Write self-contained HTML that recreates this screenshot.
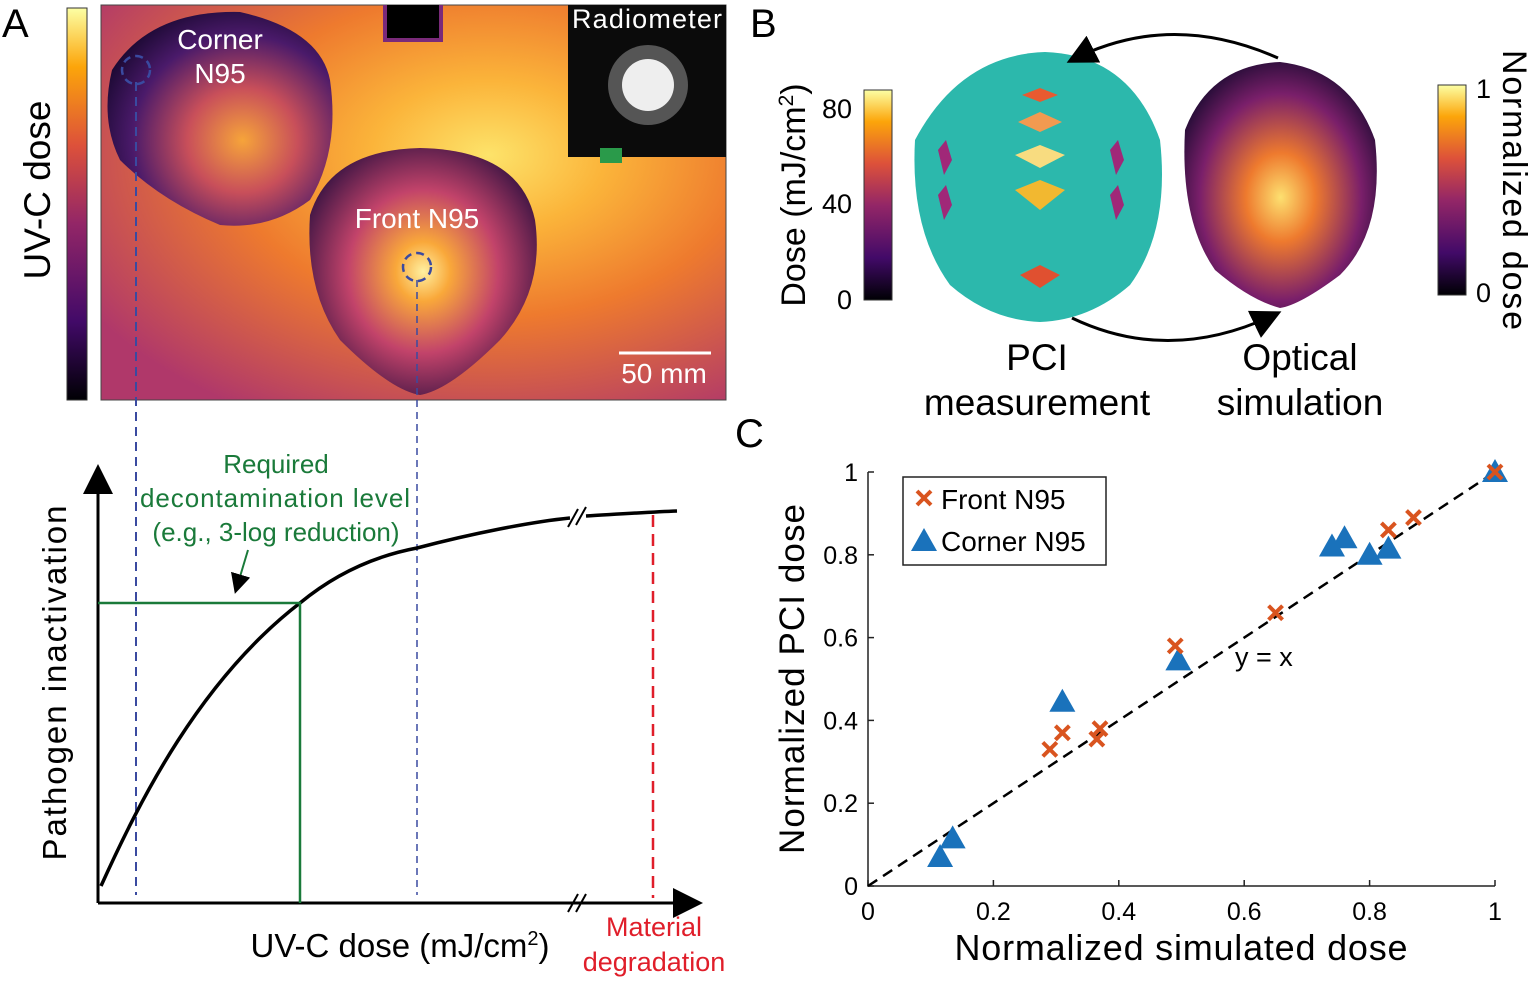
<!DOCTYPE html>
<html><head><meta charset="utf-8"><style>
body{margin:0;background:#fff;}
svg{display:block;font-family:"Liberation Sans",sans-serif;}
</style></head><body>
<svg width="1534" height="981" viewBox="0 0 1534 981">
<defs>
<linearGradient id="inf" x1="0" y1="1" x2="0" y2="0">
<stop offset="0" stop-color="#000004"/><stop offset="0.2" stop-color="#420a68"/><stop offset="0.45" stop-color="#932667"/><stop offset="0.65" stop-color="#dd513a"/><stop offset="0.85" stop-color="#fca50a"/><stop offset="1" stop-color="#fcffa4"/>
</linearGradient>
<radialGradient id="bg" cx="0.62" cy="0.38" r="0.75">
<stop offset="0" stop-color="#fde36a"/><stop offset="0.25" stop-color="#fbb43a"/><stop offset="0.55" stop-color="#ee7a2e"/><stop offset="1" stop-color="#b0386a"/>
</radialGradient>
<radialGradient id="front" cx="0.5" cy="0.5" r="0.6">
<stop offset="0" stop-color="#fff0a0"/><stop offset="0.2" stop-color="#f9a83a"/><stop offset="0.55" stop-color="#c2436a"/><stop offset="1" stop-color="#2a0e3e"/>
</radialGradient>
<radialGradient id="corner" cx="0.6" cy="0.6" r="0.7">
<stop offset="0" stop-color="#f6a43a"/><stop offset="0.35" stop-color="#c84f5a"/><stop offset="0.7" stop-color="#4a1a6a"/><stop offset="1" stop-color="#14062a"/>
</radialGradient>
<radialGradient id="sim" cx="0.5" cy="0.55" r="0.6">
<stop offset="0" stop-color="#fde070"/><stop offset="0.3" stop-color="#ee7a2e"/><stop offset="0.7" stop-color="#7a1f6a"/><stop offset="1" stop-color="#1a0a30"/>
</radialGradient>
<marker id="arr" markerWidth="10" markerHeight="10" refX="8" refY="5" orient="auto"><path d="M0,0L10,5L0,10z" fill="#000"/></marker>
</defs>

<!-- Panel A heatmap -->
<text x="2" y="37" font-size="40">A</text>
<rect x="67" y="8" width="20" height="392" fill="url(#inf)" stroke="#333"/>
<text transform="translate(50,190) rotate(-90)" font-size="37" text-anchor="middle">UV-C dose</text>
<rect x="101" y="5" width="625" height="395" fill="url(#bg)" stroke="#444"/>
<rect x="383" y="5" width="60" height="37" fill="#7a2a7a"/>
<rect x="387" y="5" width="52" height="33" fill="#000"/>
<path d="M112,70 Q150,10 240,12 Q320,30 330,80 Q340,150 310,200 Q270,230 220,225 Q160,200 120,160 Q100,120 112,70Z" fill="url(#corner)"/>
<path d="M310,215 Q330,150 420,148 Q520,150 535,220 Q545,290 500,340 Q450,390 420,395 Q390,390 340,340 Q305,290 310,215Z" fill="url(#front)"/>
<text x="220" y="49" font-size="28" fill="#fff" text-anchor="middle">Corner</text>
<text x="220" y="83" font-size="28" fill="#fff" text-anchor="middle">N95</text>
<text x="417" y="228" font-size="28" fill="#fff" text-anchor="middle">Front N95</text>
<rect x="568" y="5" width="158" height="152" fill="#0b0b0b"/>
<circle cx="648" cy="85" r="40" fill="#555"/><circle cx="648" cy="85" r="26" fill="#eee"/>
<rect x="600" y="148" width="22" height="15" fill="#2a9a4a"/>
<text x="647" y="28" font-size="27" fill="#fff" text-anchor="middle" textLength="150">Radiometer</text>
<line x1="619" y1="353" x2="711" y2="353" stroke="#fff" stroke-width="3"/>
<text x="664" y="383" font-size="28" fill="#fff" text-anchor="middle">50 mm</text>
<circle cx="136" cy="70" r="14" fill="none" stroke="#3a4aa0" stroke-width="2.5" stroke-dasharray="8 5"/>
<circle cx="417" cy="267" r="14" fill="none" stroke="#3a4aa0" stroke-width="2.5" stroke-dasharray="8 5"/>

<!-- Panel A curve -->
<line x1="136" y1="82" x2="136" y2="895" stroke="#3a4aa0" stroke-width="2" stroke-dasharray="9 6"/>
<line x1="417" y1="280" x2="417" y2="895" stroke="#3a4aa0" stroke-width="1.5" stroke-dasharray="7 5"/>
<line x1="98" y1="903" x2="98" y2="470" stroke="#000" stroke-width="3" marker-end="url(#arr)"/>
<line x1="98" y1="903" x2="697" y2="903" stroke="#000" stroke-width="3" marker-end="url(#arr)"/>
<line x1="568" y1="912" x2="578" y2="894" stroke="#000" stroke-width="2"/><line x1="576" y1="912" x2="586" y2="894" stroke="#000" stroke-width="2"/>
<line x1="568" y1="527" x2="578" y2="509" stroke="#000" stroke-width="2"/><line x1="576" y1="525" x2="586" y2="507" stroke="#000" stroke-width="2"/>
<path d="M101,886 C140,800 200,680 300,603 C340,570 380,555 417,548 C470,534 530,522 570,518 M586,516 C620,514 650,512 677,511" fill="none" stroke="#000" stroke-width="3.5"/>
<polyline points="98,603 300,603 300,903" fill="none" stroke="#1a7a3a" stroke-width="2.5"/>
<line x1="653" y1="515" x2="653" y2="898" stroke="#e01e2a" stroke-width="2.5" stroke-dasharray="12 7"/>
<g fill="#1a7a3a" font-size="26" text-anchor="middle">
<text x="276" y="473">Required</text><text x="275" y="507" textLength="270">decontamination level</text><text x="276" y="541">(e.g., 3-log reduction)</text></g>
<line x1="248" y1="550" x2="236" y2="590" stroke="#1a7a3a" stroke-width="2" marker-end="url(#arr)"/>
<text transform="translate(66,683) rotate(-90)" font-size="33" text-anchor="middle" textLength="355">Pathogen inactivation</text>
<text x="400" y="957" font-size="33" text-anchor="middle">UV-C dose (mJ/cm<tspan font-size="20" dy="-12">2</tspan><tspan dy="12">)</tspan></text>
<text x="654" y="936" font-size="27" fill="#e01e2a" text-anchor="middle">Material</text>
<text x="654" y="971" font-size="27" fill="#e01e2a" text-anchor="middle">degradation</text>

<!-- Panel B -->
<text x="750" y="37" font-size="40">B</text>
<rect x="864" y="90" width="28" height="210" fill="url(#inf)" stroke="#333"/>
<g font-size="27" text-anchor="end"><text x="852" y="118">80</text><text x="852" y="213">40</text><text x="852" y="309">0</text></g>
<text transform="translate(805,195) rotate(-90)" font-size="34" text-anchor="middle">Dose (mJ/cm<tspan font-size="21" dy="-12">2</tspan><tspan dy="12">)</tspan></text>
<path d="M915,140 Q960,55 1045,52 Q1130,55 1160,140 Q1170,230 1130,285 Q1090,320 1040,322 Q990,320 950,285 Q910,230 915,140Z" fill="#2cb8ac"/>
<g>
<path d="M1022,95 L1040,88 L1058,95 L1040,102Z" fill="#e85a30"/>
<path d="M1018,122 L1040,112 L1062,122 L1040,132Z" fill="#f29a50"/>
<path d="M1015,155 L1040,145 L1065,155 L1040,168Z" fill="#f8dc80"/>
<path d="M1015,190 L1040,180 L1065,190 L1040,210Z" fill="#f2b830"/>
<path d="M1020,275 L1040,265 L1060,275 L1040,288Z" fill="#e05030"/>
<path d="M938,150 L946,140 L952,160 L944,175Z" fill="#a02878"/><path d="M938,195 L946,185 L952,205 L944,220Z" fill="#a02878"/>
<path d="M1110,150 L1118,140 L1124,160 L1116,175Z" fill="#a02878"/><path d="M1110,195 L1118,185 L1124,205 L1116,220Z" fill="#a02878"/>
</g>
<path d="M1185,130 Q1210,65 1280,62 Q1350,70 1375,140 Q1385,230 1340,275 Q1300,305 1280,308 Q1250,300 1215,270 Q1180,220 1185,130Z" fill="url(#sim)"/>
<rect x="1438" y="85" width="28" height="210" fill="url(#inf)" stroke="#333"/>
<text x="1476" y="98" font-size="27">1</text><text x="1476" y="302" font-size="27">0</text>
<text transform="translate(1503,190) rotate(90)" font-size="34" text-anchor="middle" textLength="280">Normalized dose</text>
<path d="M1278,58 Q1170,10 1072,60" fill="none" stroke="#000" stroke-width="3" marker-end="url(#arr)"/>
<path d="M1072,318 Q1170,365 1276,314" fill="none" stroke="#000" stroke-width="3" marker-end="url(#arr)"/>
<g font-size="37" text-anchor="middle"><text x="1037" y="370">PCI</text><text x="1037" y="415">measurement</text>
<text x="1300" y="370">Optical</text><text x="1300" y="415">simulation</text></g>

<!-- Panel C -->
<text x="735" y="447" font-size="40">C</text>
<g id="chartC"></g>
</svg>
<script>
const xTicks=[0,0.2,0.4,0.6,0.8,1];
const yTicks=[0,0.2,0.4,0.6,0.8,1];
const frontX=[0.29,0.31,0.365,0.37,0.49,0.65,0.83,0.87,1];
const frontY=[0.33,0.37,0.355,0.38,0.58,0.66,0.86,0.89,1];
const cornerX=[0.115,0.135,0.31,0.495,0.74,0.76,0.80,0.83,1];
const cornerY=[0.07,0.115,0.445,0.545,0.82,0.84,0.80,0.815,1.0];
const NS='http://www.w3.org/2000/svg';
const g=document.getElementById('chartC');
const X0=868,X1=1495,Y0=886,Y1=472;
const sx=v=>X0+v*(X1-X0), sy=v=>Y0-v*(Y0-Y1);
function mk(t,a,p){const e=document.createElementNS(NS,t);for(const k in a)e.setAttribute(k,a[k]);(p||g).appendChild(e);return e;}
let ax=mk('path',{d:`M${X0},${Y1}V${Y0}H${X1}`,fill:'none',stroke:'#222','stroke-width':1.5});


xTicks.forEach(v=>{mk('line',{x1:sx(v),x2:sx(v),y1:Y0,y2:Y0-6,stroke:'#222','stroke-width':1.5});
 const t=mk('text',{x:sx(v),y:Y0+34,'font-size':25,'text-anchor':'middle'});t.textContent=String(v);
 
 });
yTicks.forEach(v=>{mk('line',{x1:X0,x2:X0+6,y1:sy(v),y2:sy(v),stroke:'#222','stroke-width':1.5});
 const t=mk('text',{x:X0-10,y:sy(v)+9,'font-size':25,'text-anchor':'end'});t.textContent=String(v);
 
 });
let ref=mk('line',{x1:sx(0),y1:sy(0),x2:sx(1),y2:sy(1),stroke:'#000','stroke-width':2.5,'stroke-dasharray':'11 7'});


let yl=mk('text',{x:1235,y:666,'font-size':27});yl.textContent='y = x';


function tri(cx,cy,p){const e=mk('path',{d:`M${cx},${cy-13}L${cx+13},${cy+10}L${cx-13},${cy+10}Z`,fill:'#1a72bb'},p);return e;}
function cross(cx,cy,p){const e=mk('path',{d:`M${cx-7},${cy-7}L${cx+7},${cy+7}M${cx+7},${cy-7}L${cx-7},${cy+7}`,stroke:'#d9541f','stroke-width':4,fill:'none'},p);return e;}
cornerX.forEach((v,i)=>{const e=tri(sx(v),sy(cornerY[i]));
 
 });
frontX.forEach((v,i)=>{const e=cross(sx(v),sy(frontY[i]));
 
 });
let lg=mk('rect',{x:903,y:477,width:203,height:88,fill:'#fff',stroke:'#222','stroke-width':1.5});


cross(924,498);tri(924,541);
let l1=mk('text',{x:941,y:509,'font-size':28});l1.textContent='Front N95';


let l2=mk('text',{x:941,y:551,'font-size':28});l2.textContent='Corner N95';


let xt=mk('text',{x:1181,y:960,'font-size':36,'text-anchor':'middle',textLength:453});xt.textContent='Normalized simulated dose';


let yt=mk('text',{x:0,y:0,'font-size':35,'text-anchor':'middle',textLength:350,transform:'translate(804,679) rotate(-90)'});yt.textContent='Normalized PCI dose';


</script>
</body></html>
